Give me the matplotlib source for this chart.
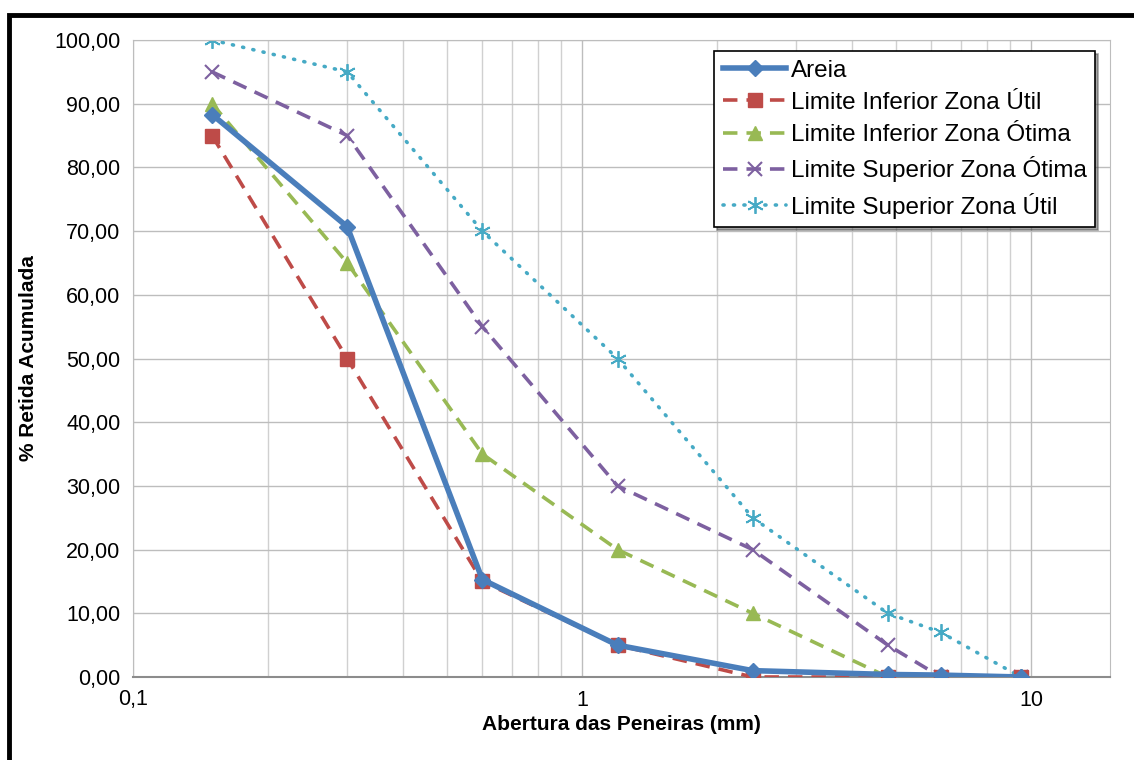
import matplotlib.pyplot as plt
from matplotlib.patches import Rectangle
from matplotlib.ticker import FuncFormatter, FixedLocator, LogLocator, NullFormatter

# Sieve openings (mm)
abertura = [0.15, 0.3, 0.6, 1.2, 2.4, 4.8, 6.3, 9.5]

# % retained, accumulated
areia = [88.3, 70.7, 15.3, 5.0, 1.0, 0.4, 0.3, 0.0]
inf_util = [85, 50, 15, 5, 0, 0, 0, 0]
inf_otima = [90, 65, 35, 20, 10, 0, 0, 0]
sup_otima = [95, 85, 55, 30, 20, 5, 0, 0]
sup_util = [100, 95, 70, 50, 25, 10, 7, 0]

labels = ["Areia", "Limite Inferior Zona Útil", "Limite Inferior Zona Ótima",
          "Limite Superior Zona Ótima", "Limite Superior Zona Útil"]

plt.rcParams['font.family'] = ['Liberation Sans', 'DejaVu Sans']

fig = plt.figure(figsize=(11.34, 7.6), dpi=100)
ax = fig.add_axes([133 / 1134, 1 - 677 / 760, (1110 - 133) / 1134, (677 - 40) / 760])

# outer black frame
fig.patches.append(Rectangle((9 / 1134, -0.2), 1.2, 1 - 15 / 760 + 0.2,
                             transform=fig.transFigure, fill=False,
                             edgecolor='black', linewidth=3.5))

ax.plot(abertura, areia, color='#4A7EBB', lw=4, marker='D', ms=8.5, label=labels[0], zorder=6)
ax.plot(abertura, inf_util, color='#BE4B48', lw=2.6, ls=(0, (4, 2.5)), marker='s', ms=10,
        label=labels[1], zorder=5)
ax.plot(abertura, inf_otima, color='#98B954', lw=2.6, ls=(0, (4, 2.5)), marker='^', ms=10,
        label=labels[2], zorder=4)
ax.plot(abertura, sup_otima, color='#7D60A0', lw=2.6, ls=(0, (4, 2.5)), marker='x', ms=10,
        mew=1.5, label=labels[3], zorder=3)
ax.plot(abertura, sup_util, color='#46AAC5', lw=2.6, ls=(0, (0.3, 2.6)), marker=(6, 2, 0), ms=12,
        mew=1.3, dash_capstyle='round', label=labels[4], zorder=2)

ax.set_xscale('log')
ax.set_xlim(0.1, 15)
ax.set_ylim(0, 100)
ax.xaxis.set_major_locator(FixedLocator([0.1, 1, 10]))
ax.xaxis.set_minor_locator(LogLocator(base=10, subs=range(2, 10)))
ax.xaxis.set_minor_formatter(NullFormatter())
ax.xaxis.set_major_formatter(FuncFormatter(lambda v, p: f"{v:g}".replace('.', ',')))
ax.set_yticks(range(0, 101, 10))
ax.yaxis.set_major_formatter(FuncFormatter(lambda v, p: f"{v:.2f}".replace('.', ',')))

ax.grid(True, which='major', color='#BDBDBD', lw=1)
ax.grid(True, which='minor', axis='x', color='#D0D0D0', lw=1)
ax.set_axisbelow(True)
ax.tick_params(which='both', length=0, labelsize=15.5, pad=9)
for s in ax.spines.values():
    s.set_color('#BDBDBD')
ax.spines['bottom'].set_color('#8C8C8C')
ax.spines['bottom'].set_linewidth(1.5)

ax.set_xlabel("Abertura das Peneiras (mm)", fontsize=15, fontweight='bold', labelpad=3)
ax.set_ylabel("% Retida Acumulada", fontsize=15, fontweight='bold', labelpad=12)

leg = ax.legend(loc='upper right', bbox_to_anchor=(0.99, 0.99), fontsize=17.5,
                frameon=True, fancybox=False, shadow=True, edgecolor='black',
                borderpad=0.35, labelspacing=0.42, handlelength=2.6, handletextpad=0.2,
                borderaxespad=0.2)
leg.get_frame().set_linewidth(1.2)
leg.set_zorder(10)

fig.savefig("out.png", dpi=100)
